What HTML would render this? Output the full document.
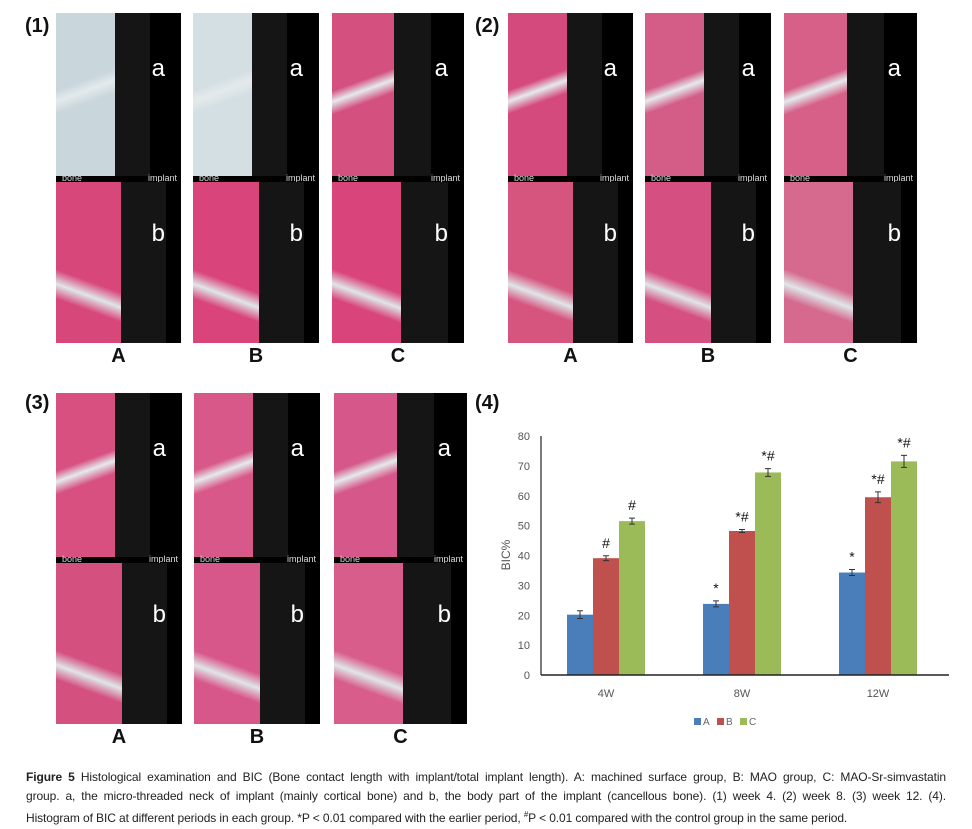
<!DOCTYPE html>
<html><head><meta charset="utf-8"><style>
body{margin:0;width:972px;height:829px;background:#fff;position:relative;overflow:hidden;font-family:"Liberation Sans",sans-serif}
.pl{position:absolute;font-weight:bold;font-size:20px;color:#111}
.img{position:absolute;overflow:hidden;background:#000}
.half{position:absolute;left:0;width:100%;overflow:hidden}
.tis{position:absolute;left:0;top:0;bottom:0}
.grey{position:absolute;top:0;bottom:0;background:#151515}
.lt{position:absolute;color:#fff;font-size:24px}
.strip{position:absolute;left:0;width:100%;height:6px;background:#000;color:#ddd;font-size:9px;line-height:6px}
.gl{position:absolute;font-weight:bold;font-size:20px;color:#111;width:30px;text-align:center}
.cl{position:absolute;left:26px;width:920px;font-size:12px;line-height:14px;color:#222;white-space:nowrap;letter-spacing:-0.1px}
.j{text-align:justify;text-align-last:justify;white-space:normal;height:14px;overflow:hidden}
</style></head><body>
<div class="pl" style="left:25px;top:15px">(1)</div>
<div class="pl" style="left:475px;top:15px">(2)</div>
<div class="pl" style="left:25px;top:392px">(3)</div>
<div class="pl" style="left:475px;top:392px">(4)</div>
<div id="imgs"></div>
<svg id="chart" width="972" height="829" style="position:absolute;left:0;top:0"></svg>
<div>
<div class="cl j" style="top:770px"><b>Figure 5</b> Histological examination and BIC (Bone contact length with implant/total implant length). A: machined surface group, B: MAO group, C: MAO-Sr-simvastatin</div>
<div class="cl j" style="top:789px">group. a, the micro-threaded neck of implant (mainly cortical bone) and b, the body part of the implant (cancellous bone). (1) week 4. (2) week 8. (3) week 12. (4).</div>
<div class="cl" style="top:808px">Histogram of BIC at different periods in each group. *P &lt; 0.01 compared with the earlier period, <sup style="font-size:8px">#</sup>P &lt; 0.01 compared with the control group in the same period.</div>
</div>
<script>
const panels=[
 {y:13,h:330,xs:[[56,125],[193,126],[332,132]],cols:[['#c9d6dc','#d8477a'],['#d4dfe3','#d9447a'],['#d4507e','#d9447a']]},
 {y:13,h:330,xs:[[508,125],[645,126],[784,133]],cols:[['#d54a7c','#d6557f'],['#d35d86','#d54f80'],['#d66088','#d56a8e']]},
 {y:393,h:331,xs:[[56,126],[194,126],[334,133]],cols:[['#d7507f','#d4507e'],['#d9588a','#d8578a'],['#d6588a','#d85d8a']]}
];
const grp=['A','B','C'];
const host=document.getElementById('imgs');
panels.forEach((p,pi)=>{p.xs.forEach((xw,i)=>{
 const [x,w]=xw;const d=document.createElement('div');d.className='img';
 
 
 d.style.cssText=`left:${x}px;top:${p.y}px;width:${w}px;height:${p.h}px`;
 const th=Math.round(p.h*0.495);
 const c=p.cols[i];
 d.innerHTML=`<div class="half" style="top:0;height:${th}px"><div class="grey" style="left:45%;width:30%"></div><div class="tis" style="width:47%;background:linear-gradient(160deg,${c[0]} 0%,${c[0]} 42%,#e4eaec 48%,${c[0]} 55%,${c[0]} 100%)"></div><div class="lt" style="right:16px;top:42px">a</div></div>
 <div class="strip" style="top:${th}px"><span style="position:absolute;left:6px;top:-1px">bone</span><span style="position:absolute;right:4px;top:-1px">implant</span></div>
 <div class="half" style="top:${th+6}px;bottom:0"><div class="grey" style="left:50%;width:38%"></div><div class="tis" style="width:52%;background:linear-gradient(200deg,${c[1]} 0%,${c[1]} 60%,#dfe6e8 68%,${c[1]} 76%)"></div><div class="lt" style="right:16px;top:38px">b</div></div>`;
 host.appendChild(d);
 const l=document.createElement('div');l.className='gl';l.textContent=grp[i];
 
 
 l.style.left=(x+w/2-15)+'px';l.style.top=(p.y+p.h+2)+'px';host.appendChild(l);
});});

// chart data
const categories=['4W','8W','12W'];
const seriesNames=['A','B','C'];
const valuesA=[20.2,23.8,34.3];
const valuesB=[39.1,48.2,59.5];
const valuesC=[51.5,67.8,71.5];
const errA=[1.3,1.0,1.0];
const errB=[0.8,0.5,1.8];
const errC=[1.0,1.3,2.0];
const marksA=['','*','*'];
const marksB=['#','*#','*#'];
const marksC=['#','*#','*#'];
const yTicks=[0,10,20,30,40,50,60,70,80];
const colors=['#4a7ebb','#c0504d','#9bbb59'];
const series=[valuesA,valuesB,valuesC],errs=[errA,errB,errC],marks=[marksA,marksB,marksC];
const y0=675,y1=436,x0=541,x1=949;
const ys=v=>y0-(v/80)*(y0-y1);
const gw=(x1-x0)/categories.length;
const gx=i=>x0+gw*(i+0.5)-3;
const bw=26;
const svg=document.getElementById('chart');const NS='http://www.w3.org/2000/svg';
function el(t,a,txt){const e=document.createElementNS(NS,t);for(const k in a)e.setAttribute(k,a[k]);if(txt!=null)e.textContent=txt;svg.appendChild(e);return e;}
yTicks.forEach(t=>{const e=el('text',{x:530,y:ys(t)+4,'text-anchor':'end','font-size':11,fill:'#555','font-family':'Liberation Sans'},t);
 });
const yt=el('text',{x:0,y:0,transform:`translate(510,555) rotate(-90)`,'text-anchor':'middle','font-size':12,fill:'#555','font-family':'Liberation Sans'},'BIC%');

const ya=el('line',{x1:x0,y1:y1,x2:x0,y2:y0,stroke:'#222','stroke-width':1.2});

categories.forEach((c,i)=>{
 series.forEach((s,j)=>{
  const bx=gx(i)+(j-1.5)*bw;const top=ys(s[i]);
  const r=el('rect',{x:bx,y:top,width:bw,height:y0-top,fill:colors[j]});
  
  const cx=bx+bw/2,eh=ys(s[i]+errs[j][i]),el2=ys(s[i]-errs[j][i]);
  const eb=el('path',{d:`M${cx},${eh}V${el2}M${cx-3},${eh}H${cx+3}M${cx-3},${el2}H${cx+3}`,stroke:'#333','stroke-width':1,fill:'none'});
  
  if(marks[j][i]){const m=el('text',{x:cx,y:eh-8,'text-anchor':'middle','font-size':14,fill:'#111','font-family':'Liberation Sans'},marks[j][i]);
   }
 });
 const t=el('text',{x:gx(i),y:y0+22,'text-anchor':'middle','font-size':11,fill:'#555','font-family':'Liberation Sans'},c);
 
});
const xa=el('line',{x1:x0,y1:y0,x2:x1,y2:y0,stroke:'#222','stroke-width':1.5});

seriesNames.forEach((n,j)=>{const lx=694+j*23;
 const r=el('rect',{x:lx,y:718,width:7,height:7,fill:colors[j]});
 
 const t=el('text',{x:lx+9,y:725,'font-size':10,fill:'#666','font-family':'Liberation Sans'},n);
 });
</script>
</body></html>
